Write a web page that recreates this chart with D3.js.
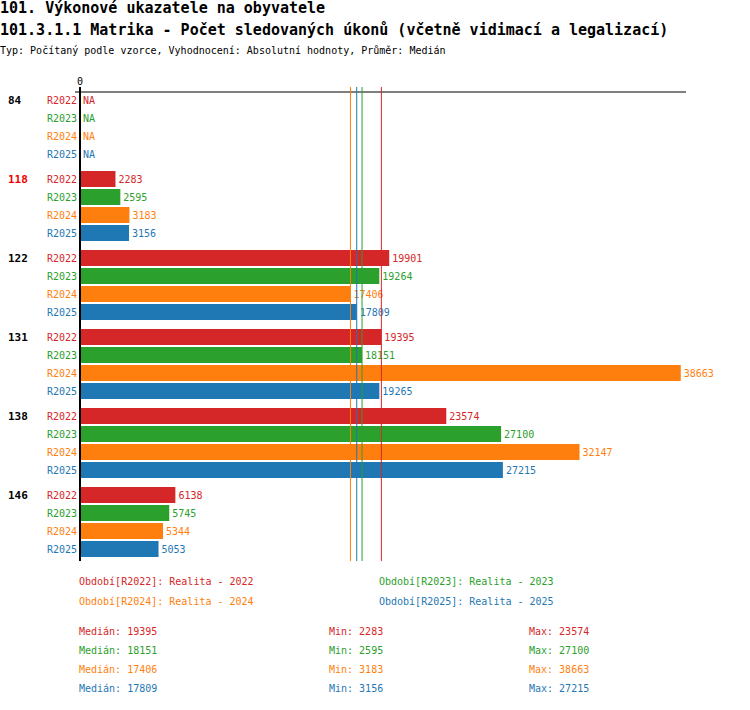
<!DOCTYPE html><html><head><meta charset="utf-8"><script src="https://cdn.jsdelivr.net/npm/d3@7"></script>
<style>body{margin:0;background:#fff}text{font-family:"DejaVu Sans Mono",monospace}</style></head><body><svg id="c" width="750" height="710"></svg>
<script>
const groups=["84","118","122","131","138","146"];
const periods=["R2022","R2023","R2024","R2025"];
const colors=["#d62728","#2ca02c","#ff7f0e","#1f77b4"];
const values=[
 [null,null,null,null],
 [2283,2595,3183,3156],
 [19901,19264,17406,17809],
 [19395,18151,38663,19265],
 [23574,27100,32147,27215],
 [6138,5745,5344,5053]];
const medians=[19395,18151,17406,17809];
const mins=[2283,2595,3183,3156];
const maxs=[23574,27100,38663,27215];
const legendLabels=["Období[R2022]: Realita - 2022","Období[R2023]: Realita - 2023","Období[R2024]: Realita - 2024","Období[R2025]: Realita - 2025"];
const svg=d3.select("#c");
const x=d3.scaleLinear().domain([0,39000]).range([80,686]);
svg.append("text").attr("x",0).attr("y",13).attr("font-size",15).attr("font-weight","bold").text("101. Výkonové ukazatele na obyvatele");
svg.append("text").attr("x",0).attr("y",35).attr("font-size",15).attr("font-weight","bold").text("101.3.1.1 Matrika - Počet sledovaných úkonů (včetně vidimací a legalizací)");
svg.append("text").attr("x",0).attr("y",54).attr("font-size",10).text("Typ: Počítaný podle vzorce, Vyhodnocení: Absolutní hodnoty, Průměr: Medián");
const y=(g,p)=>100+g*79+p*18;
svg.append("line").attr("x1",75).attr("x2",686).attr("y1",92).attr("y2",92).attr("stroke","#000");
svg.append("text").attr("x",80).attr("y",85).attr("text-anchor","middle").attr("font-size",10).text("0");
groups.forEach((g,gi)=>{
 svg.append("text").attr("x",8).attr("y",y(gi,0)+4).attr("font-size",11).attr("font-weight","bold").attr("fill",g==="118"?"#e00":"#000").text(g);
 periods.forEach((p,pi)=>{
  const yc=y(gi,pi),v=values[gi][pi];
  svg.append("text").attr("x",77).attr("y",yc+4).attr("text-anchor","end").attr("font-size",10).attr("fill",colors[pi]).text(p);
  if(v!=null) svg.append("rect").attr("x",x(0)).attr("y",yc-8).attr("width",x(v)-x(0)).attr("height",16).attr("fill",colors[pi]);
  svg.append("text").attr("x",(v==null?x(0):x(v))+3).attr("y",yc+4).attr("font-size",10).attr("fill",colors[pi]).text(v==null?"NA":v);
 });
});
medians.forEach((m,i)=>svg.append("line").attr("x1",x(m)).attr("x2",x(m)).attr("y1",87).attr("y2",561).attr("stroke",colors[i]));
svg.append("line").attr("x1",80).attr("x2",80).attr("y1",87).attr("y2",561).attr("stroke","#000").attr("stroke-width",2);
legendLabels.forEach((l,i)=>svg.append("text").attr("x",i%2?379:79).attr("y",585+Math.floor(i/2)*20).attr("font-size",10).attr("fill",colors[i]).text(l));
periods.forEach((p,i)=>{
 const yy=635+i*19;
 svg.append("text").attr("x",79).attr("y",yy).attr("font-size",10).attr("fill",colors[i]).text("Medián: "+medians[i]);
 svg.append("text").attr("x",329).attr("y",yy).attr("font-size",10).attr("fill",colors[i]).text("Min: "+mins[i]);
 svg.append("text").attr("x",529).attr("y",yy).attr("font-size",10).attr("fill",colors[i]).text("Max: "+maxs[i]);
});
</script></body></html>
